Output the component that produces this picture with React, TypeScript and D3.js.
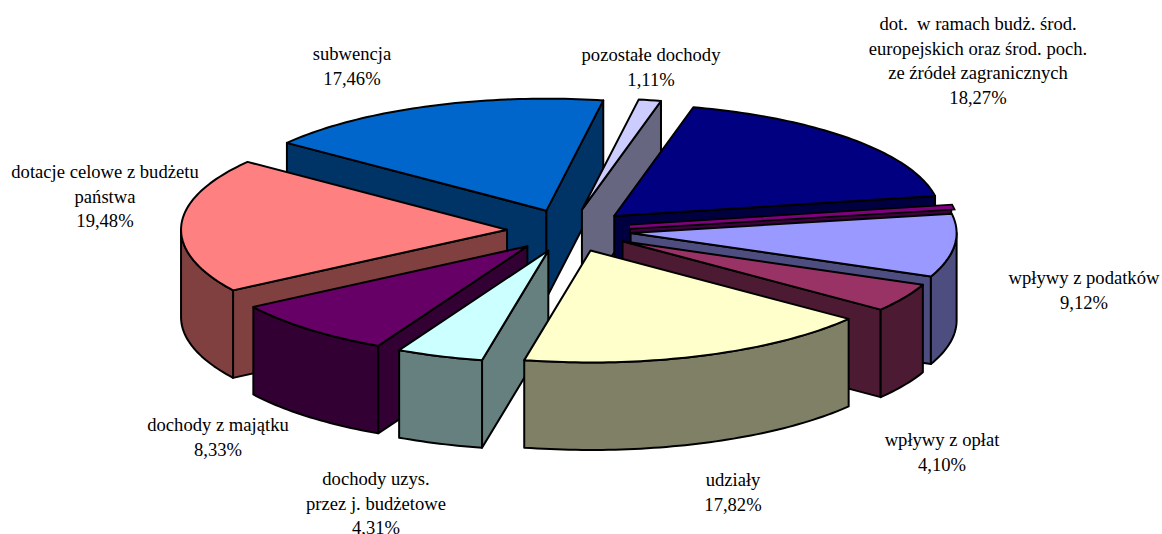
import * as d3 from "d3";
import React from "react";

const categories = [
  "wpływy z podatków",
  "wpływy z opłat",
  "udziały",
  "dochody uzys. przez j. budżetowe",
  "dochody z majątku",
  "dotacje celowe z budżetu państwa",
  "subwencja",
  "pozostałe dochody",
  "dot. w ramach budż. środ. europejskich",
  "pozostałe",
];
const values = [9.12, 4.1, 17.82, 4.31, 8.33, 19.48, 17.46, 1.11, 18.27, 0.1];
const topColors = ["#9999FF", "#993366", "#FFFFCC", "#CCFFFF", "#660066", "#FF8080", "#0066CC", "#CCCCFF", "#000080", "#800080"];
const sideColors = ["#4D4D80", "#4D1A33", "#808066", "#668080", "#330033", "#804040", "#003366", "#666680", "#000040", "#400040"];
// back slices first, so the nearer ones paint over them
const drawOrder = [6, 7, 8, 9, 0, 1, 5, 4, 3, 2];
const sliverIndex = 9;

const labelLines = [
  ["wpływy z podatków", "9,12%"],
  ["wpływy z opłat", "4,10%"],
  ["udziały", "17,82%"],
  ["dochody uzys.", "przez j. budżetowe", "4,31%"],
  ["dochody z majątku", "8,33%"],
  ["dotacje celowe z budżetu", "państwa", "19,48%"],
  ["subwencja", "17,46%"],
  ["pozostałe dochody", "1,11%"],
  ["dot.  w ramach budż. środ.", "europejskich oraz środ. poch.", "ze źródeł zagranicznych", "18,27%"],
];
const labelX = [1084, 942, 733, 376, 218, 105, 352, 651, 978];
const labelY = [284, 446, 486, 485, 431, 178, 60, 61, 30];

const width = 1162;
const height = 534;
const cx = 569;
const cy = 230.5;
const rx = 326;
const ry = 112;
const depth = 87.5;
const explode = 62;
const lineHeight = 24.5;
const startAngle = (80.1 * Math.PI) / 180;

const pie = d3
  .pie<number>()
  .sort(null)
  .startAngle(startAngle)
  .endAngle(startAngle + 2 * Math.PI);
const arcs = pie(values);

const line = d3.line<[number, number]>().curve(d3.curveLinear);

function arcPoints(ax: number, ay: number, a0: number, a1: number, dy: number): [number, number][] {
  const n = Math.max(2, Math.ceil((a1 - a0) / 0.02));
  return d3.range(n + 1).map((i) => {
    const a = a0 + ((a1 - a0) * i) / n;
    return [ax + rx * Math.sin(a), ay - ry * Math.cos(a) + dy] as [number, number];
  });
}

function slice(i: number) {
  const { startAngle: a0, endAngle: a1 } = arcs[i];
  const mid = (a0 + a1) / 2;
  const ax = cx + explode * Math.sin(mid);
  const ay = cy - (explode * ry * Math.cos(mid)) / rx;
  const top = arcPoints(ax, ay, a0, a1, 0);
  const walls: string[] = [];

  const radial = (p: [number, number]) =>
    line([[ax, ay], p, [p[0], p[1] + depth], [ax, ay + depth]]) + "Z";
  if (Math.sin(a0) < 0) walls.push(radial(top[0]));
  if (Math.sin(a1) > 0) walls.push(radial(top[top.length - 1]));

  // outer wall is only seen on the near half of the ellipse
  for (const k of [0, 1]) {
    const lo = Math.max(a0, Math.PI / 2 + k * 2 * Math.PI);
    const hi = Math.min(a1, (3 * Math.PI) / 2 + k * 2 * Math.PI);
    if (hi > lo) {
      const upper = arcPoints(ax, ay, lo, hi, 0);
      const lower = arcPoints(ax, ay, lo, hi, depth).reverse();
      walls.push(line([...upper, ...lower]) + "Z");
    }
  }
  return { walls, top: line([[ax, ay], ...top]) + "Z" };
}

export default function App() {
  return (
    <svg
      width={width}
      height={height}
      style={{ position: "absolute", left: 0, top: 0, display: "block", background: "#fff" }}
    >
      {drawOrder.map((i) => {
        const s = slice(i);
        const sliver = i === sliverIndex;
        return (
          <g key={categories[i]} stroke="#000" strokeWidth={2} strokeLinejoin={sliver ? "miter" : "round"}>
            {s.walls.map((d, j) => (
              <path key={j} d={d} fill={sideColors[i]} />
            ))}
            {/* the almost empty slice still shows as a strip of its own colour */}
            <path d={s.top} fill={topColors[i]} strokeWidth={sliver ? 6 : 2} />
            {sliver && <path d={s.top} fill={topColors[i]} stroke={topColors[i]} strokeWidth={2.5} />}
          </g>
        );
      })}
      <g fontFamily="'Liberation Serif'" fontSize={18.6} fill="#000" textAnchor="middle">
        {labelLines.map((lines, i) => (
          <text key={i} xmlSpace="preserve">
            {lines.map((t, j) => (
              <tspan key={j} x={labelX[i]} y={labelY[i] + j * lineHeight}>
                {t}
              </tspan>
            ))}
          </text>
        ))}
      </g>
    </svg>
  );
}
